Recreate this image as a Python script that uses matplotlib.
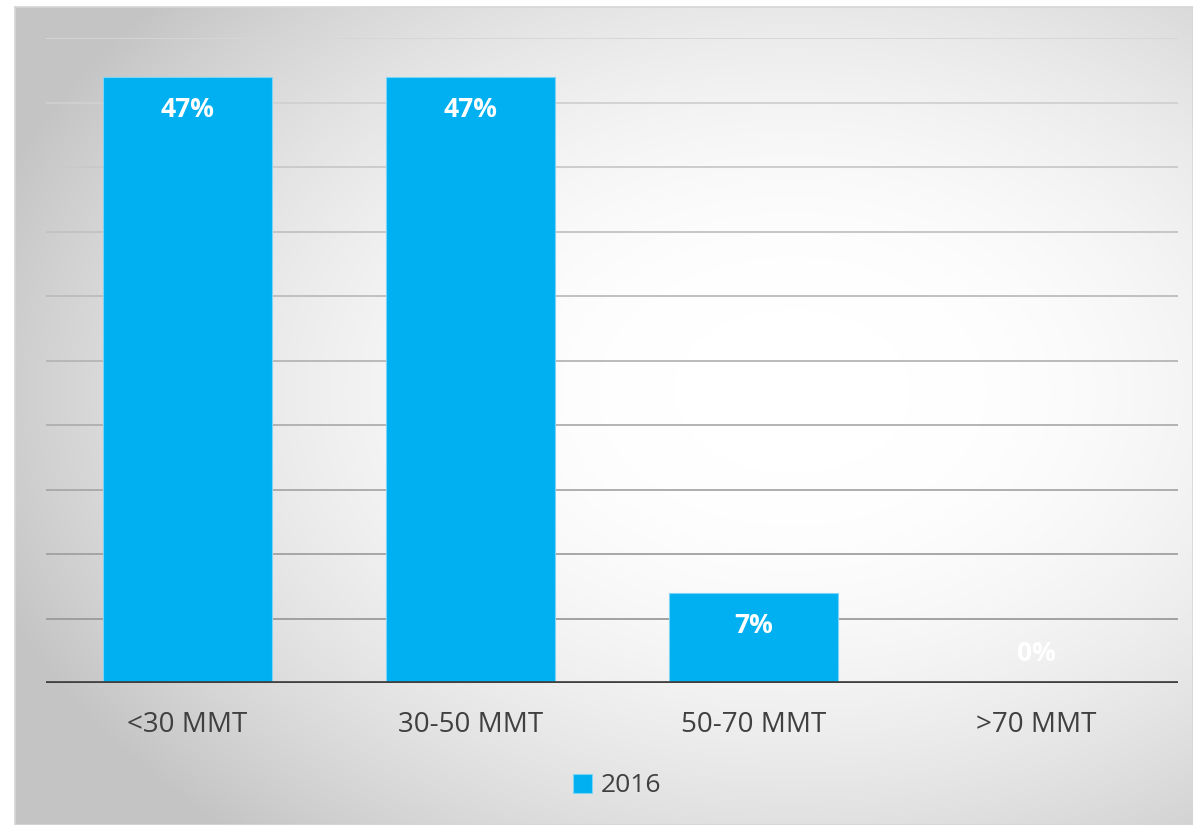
import numpy as np
import matplotlib
matplotlib.use("Agg")
import matplotlib.pyplot as plt
from matplotlib.patches import Patch

plt.rcParams['font.family'] = ['Open Sans', 'DejaVu Sans']

categories = ["<30 MMT", "30-50 MMT", "50-70 MMT", ">70 MMT"]
values_2016 = [47, 47, 7, 0]
series_name = "2016"
grid_values = [5, 10, 15, 20, 25, 30, 35, 40, 45, 50]

BAR_COLOR = "#00B0F0"
TEXT_COLOR = "#404040"

W, H, DPI = 1193, 825, 100
fig = plt.figure(figsize=(W / DPI, H / DPI), dpi=DPI)
fig.patch.set_facecolor("white")

# Grey panel with a soft radial highlight, stretched to the panel's shape
px0, px1, py0, py1 = 15, 1193, 7, 825
bg = fig.add_axes([px0 / W, 1 - py1 / H, (px1 - px0) / W, (py1 - py0) / H])
u, v = np.meshgrid(np.linspace(0, 1, px1 - px0), np.linspace(0, 1, py1 - py0))
r = np.sqrt((u - 0.66) ** 2 + (v - 0.47) ** 2)
shade = 1 - 0.23 * np.clip((r - 0.1) / 0.62, 0, 1) ** 1.8
bg.imshow(np.dstack([shade] * 3), aspect="auto", interpolation="bilinear")
bg.set_xticks([])
bg.set_yticks([])
for s in bg.spines.values():
    s.set_color("#d6d6d6")
    s.set_linewidth(1.2)

# Plot area
left, right, top, base = 46, 1178, 38, 683
ax = fig.add_axes([left / W, 1 - base / H, (right - left) / W, (base - top) / H])
ax.set_facecolor("none")
ax.set_xlim(-0.5, len(categories) - 0.5)
ax.set_ylim(0, 50)

for g in grid_values:
    tone = 0.58 + 0.26 * (g / 50.0)
    ax.axhline(g, color=(tone, tone, tone), lw=1.3, zorder=1)

x = np.arange(len(categories))
bars = ax.bar(x, values_2016, width=0.6, color=BAR_COLOR,
              edgecolor="#7fd3f5", linewidth=0.8, zorder=2, label=series_name)

for xi, v_ in zip(x, values_2016):
    off = -23.5 if v_ > 0 else 21.5
    ax.annotate(f"{v_}%", xy=(xi, v_), xytext=(0, off), textcoords="offset points",
                ha="center", va="center", color="white", fontsize=19,
                fontweight="bold", zorder=3)

ax.axhline(0, color="#404040", lw=3.4, zorder=4)
for s in ax.spines.values():
    s.set_visible(False)
ax.set_yticks([])
ax.set_xticks(x)
ax.set_xticklabels(categories, fontsize=20, color=TEXT_COLOR)
ax.tick_params(axis="x", length=0, pad=20)

handle = Patch(facecolor=BAR_COLOR, edgecolor="#7fd3f5", linewidth=0.8)
leg = fig.legend([handle], [series_name], loc="center",
                 bbox_to_anchor=(617.5 / W, 1 - 786 / H), frameon=False,
                 fontsize=19, handlelength=0.7, handleheight=0.7,
                 handletextpad=0.35, borderaxespad=0)
for t in leg.get_texts():
    t.set_color(TEXT_COLOR)

fig.savefig("out.png", dpi=DPI, facecolor=fig.get_facecolor())
